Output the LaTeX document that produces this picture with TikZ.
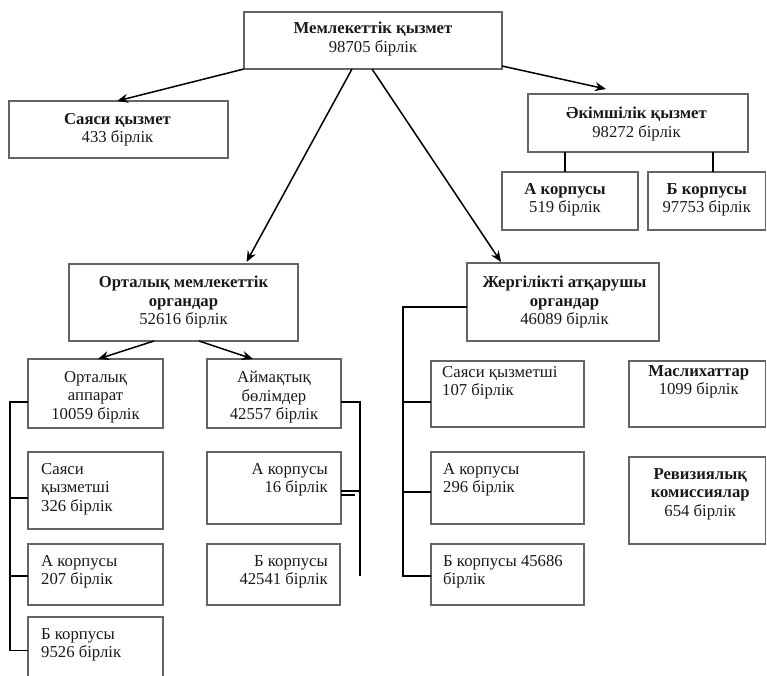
\documentclass[tikz,border=0pt]{standalone}
\usepackage{fontspec}
\setmainfont{Liberation Serif}
\usetikzlibrary{arrows.meta,fit,calc}
\definecolor{boxgray}{RGB}{100,100,100}
\definecolor{txtc}{RGB}{25,25,25}
\begin{document}
\begin{tikzpicture}[x=1pt,y=-1pt,
  box/.style={draw=boxgray,line width=1.3pt,inner sep=0pt,outer sep=0pt},
  txt/.style={inner sep=0pt,font=\fontsize{16.7}{18.5}\selectfont,text=txtc},
  conn/.style={line width=1.5pt,black},
  arr/.style={conn,-{Stealth[length=11pt,width=9pt]}}]
\useasboundingbox (0,0) rectangle (767,675);
% boxes
\node[box,fit={(244,12)(502,69)}] (top) {};
\node[box,fit={(9,101)(228,158)}] (saya) {};
\node[box,fit={(528,94)(748,152)}] (akim) {};
\node[box,fit={(502,172)(638,230)}] (akA) {};
\node[box,fit={(648,172)(765.5,230)}] (akB) {};
\node[box,fit={(69,264)(298,341)}] (orm) {};
\node[box,fit={(467,263)(659,341)}] (zhg) {};
\node[box,fit={(28,359)(163,428)}] (oa) {};
\node[box,fit={(207,359)(341,428)}] (ab) {};
\node[box,fit={(28,452)(163,529)}] (sq1) {};
\node[box,fit={(28,544)(163,605)}] (ak1) {};
\node[box,fit={(28,617)(163,678)}] (bk1) {};
\node[box,fit={(207,452)(341,524)}] (a16) {};
\node[box,fit={(207,544)(340,605)}] (b42) {};
\node[box,fit={(431,361)(584,427)}] (sq2) {};
\node[box,fit={(431,452)(584,524)}] (a296) {};
\node[box,fit={(431,544)(584,605)}] (b45) {};
\node[box,fit={(629,361)(765.5,427)}] (masl) {};
\node[box,fit={(629,457)(765.5,544)}] (rev) {};
% texts
\node[txt,anchor=north,align=center] at ([yshift=-10pt]top.north) {\textbf{Мемлекеттік қызмет}\\98705 бірлік};
\node[txt,anchor=north,align=center] at ([xshift=-1pt,yshift=-12pt]saya.north) {\textbf{Саяси қызмет}\\433 бірлік};
\node[txt,anchor=north,align=center] at ([xshift=-1.5pt,yshift=-13pt]akim.north) {\textbf{Әкімшілік қызмет}\\98272 бірлік};
\node[txt,anchor=north,align=center] at ([xshift=-5pt,yshift=-11pt]akA.north) {\textbf{А корпусы}\\519 бірлік};
\node[txt,anchor=north,align=center] at ([yshift=-11pt]akB.north) {\textbf{Б корпусы}\\97753 бірлік};
\node[txt,anchor=north,align=center] at ([yshift=-12pt]orm.north) {\textbf{Орталық мемлекеттік}\\\textbf{органдар}\\52616 бірлік};
\node[txt,anchor=north,align=center] at ([xshift=1.5pt,yshift=-13pt]zhg.north) {\textbf{Жергілікті атқарушы}\\\textbf{органдар}\\46089 бірлік};
\node[txt,anchor=north,align=center] at ([yshift=-12pt]oa.north) {Орталық\\аппарат\\10059 бірлік};
\node[txt,anchor=north,align=center] at ([yshift=-12pt]ab.north) {Аймақтық\\бөлімдер\\42557 бірлік};
\node[txt,anchor=north west,align=left] at ([xshift=13pt,yshift=-11pt]sq1.north west) {Саяси\\қызметші\\326 бірлік};
\node[txt,anchor=north west,align=left] at ([xshift=13pt,yshift=-11pt]ak1.north west) {А корпусы\\207 бірлік};
\node[txt,anchor=north west,align=left] at ([xshift=13pt,yshift=-11pt]bk1.north west) {Б корпусы\\9526 бірлік};
\node[txt,anchor=north east,align=right] at ([xshift=-13pt,yshift=-11pt]a16.north east) {А корпусы\\16 бірлік};
\node[txt,anchor=north east,align=right] at ([xshift=-12pt,yshift=-11pt]b42.north east) {Б корпусы\\42541 бірлік};
\node[txt,anchor=north west,align=left] at ([xshift=11pt,yshift=-5pt]sq2.north west) {Саяси қызметші\\107 бірлік};
\node[txt,anchor=north west,align=left] at ([xshift=12pt,yshift=-11pt]a296.north west) {А корпусы\\296 бірлік};
\node[txt,anchor=north west,align=left] at ([xshift=12pt,yshift=-11pt]b45.north west) {Б корпусы 45686\\бірлік};
\node[txt,anchor=north,align=center] at ([xshift=1.5pt,yshift=-4pt]masl.north) {\textbf{Маслихаттар}\\1099 бірлік};
\node[txt,anchor=north,align=center] at ([xshift=3pt,yshift=-11pt]rev.north) {\textbf{Ревизиялық}\\\textbf{комиссиялар}\\654 бірлік};
% arrows
\draw[arr] (top.south west) -- ([xshift=-1.5pt]saya.north);
\draw[arr] ([yshift=3pt]top.south east) -- ([xshift=-32pt,yshift=5pt]akim.north);
\draw[arr] ([xshift=-21pt]top.south) -- ([xshift=63pt,yshift=2pt]orm.north);
\draw[arr] ([xshift=-1pt]top.south) -- ([xshift=-62pt,yshift=1pt]zhg.north);
\draw[arr] ([xshift=-29.5pt]orm.south) -- ([xshift=2.5pt]oa.north);
\draw[arr] ([xshift=15.5pt]orm.south) -- ([xshift=-21pt]ab.north);
% plain connectors
\draw[conn] ([xshift=-73pt]akim.south) -- ([xshift=-73pt]akim.south |- akA.north);
\draw[conn] ([xshift=75pt]akim.south) -- ([xshift=75pt]akim.south |- akB.north);
\coordinate (spL) at (10,0);
\coordinate (spR) at (360,0);
\coordinate (spJ) at (403,0);
\draw[conn] ([yshift=-8.5pt]oa.west) -| ([yshift=-3pt]bk1.west -| spL) -- ([yshift=-3pt]bk1.west);
\draw[conn] ([yshift=-7.5pt]sq1.west) -- ([yshift=-7.5pt]sq1.west -| spL);
\draw[conn] ([yshift=-1.5pt]ak1.west) -- ([yshift=-1.5pt]ak1.west -| spL);
\draw[conn] ([yshift=-8.5pt]ab.east) -| ([yshift=-1.5pt]b42.east -| spR);
\draw[conn] ([yshift=-3pt]a16.east) -- ([yshift=-3pt]a16.east -| spR);
\draw[conn] ([yshift=-7pt]a16.east) -- ([xshift=14pt,yshift=-7pt]a16.east);
\draw[conn] ([yshift=-5pt]zhg.west) -| ([yshift=-1.5pt]b45.west -| spJ) -- ([yshift=-1.5pt]b45.west);
\draw[conn] ([yshift=-8pt]sq2.west) -- ([yshift=-8pt]sq2.west -| spJ);
\draw[conn] ([yshift=-4pt]a296.west) -- ([yshift=-4pt]a296.west -| spJ);
\end{tikzpicture}
\end{document}
